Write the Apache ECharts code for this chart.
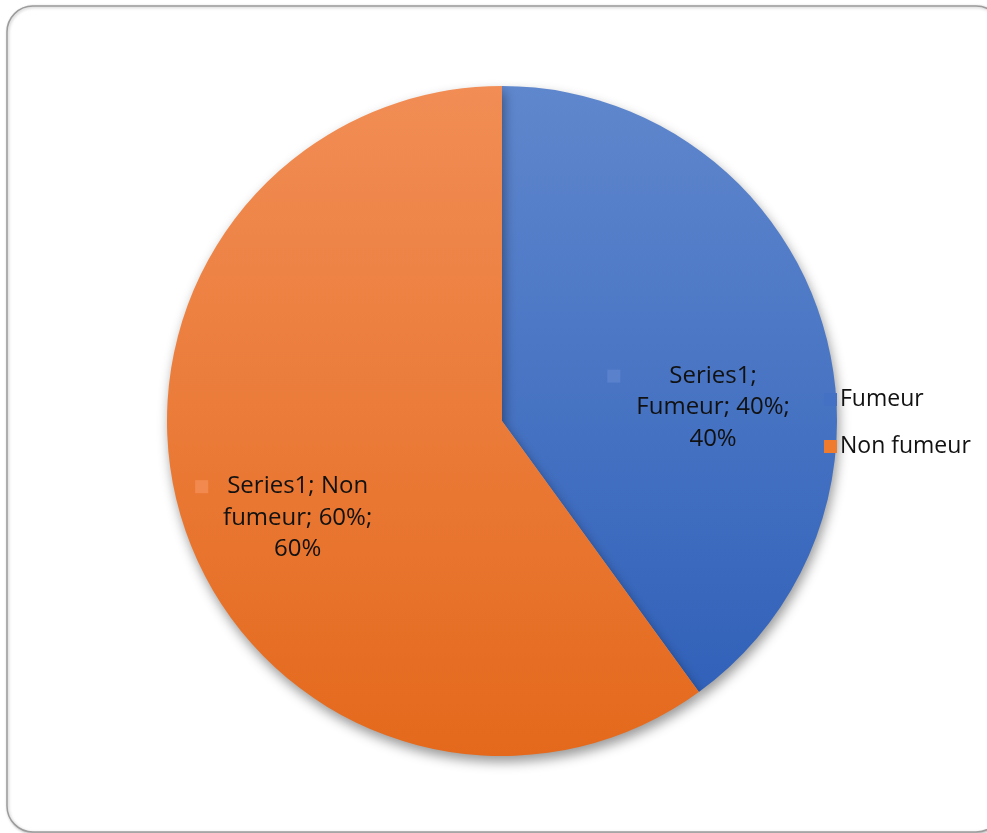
<!DOCTYPE html>
<html>
<head>
<meta charset="utf-8">
<title>Fumeur / Non fumeur</title>
<script src="https://cdn.jsdelivr.net/npm/echarts@6/dist/echarts.min.js"></script>
<style>
  html, body { margin: 0; padding: 0; background: #fff; }
  #chart { width: 987px; height: 833px; }
</style>
</head>
<body>
<div id="chart"></div>
<script>
// Data
const seriesName = 'Series1';
const categories = ['Fumeur', 'Non fumeur'];
const values = [40, 60];
const percents = ['40%', '60%'];

// Slice colours (top → bottom of the gradient)
const gradTop = ['#5f87cd', '#f18d55'];
const gradBottom = ['#2c5db7', '#e4691c'];
const keyColors = ['#5a82cc', '#f28a50'];

const chart = echarts.init(document.getElementById('chart'), null, { renderer: 'canvas' });

const cx = 502, cy = 421, R = 335;

function grad(i) {
  return new echarts.graphic.LinearGradient(0, cy - R, 0, cy + R, [
    { offset: 0, color: gradTop[i] },
    { offset: 1, color: gradBottom[i] }
  ], true);
}

const labelFormat = [
  function (name, pct) {
    return '{k0|}{g0|}{t|' + seriesName + ';}{s0|}\n{t|' + name + '; ' + pct + ';}\n{t|' + pct + '}';
  },
  function (name, pct) {
    return '{k1|}{g1|}{t|' + seriesName + '; Non}{s1|}\n{t|fumeur; ' + pct + ';}\n{t|' + pct + '}';
  }
];

// label centres expressed relative to the pie (fraction of radius)
const labelPos = [
  { fx: 0.63, fy: -0.04 },
  { fx: -0.61, fy: 0.29 }
];

const data = categories.map((c, i) => ({
  name: c,
  value: values[i],
  itemStyle: { color: grad(i) }
}));

const font = '"Open Sans", Lato, sans-serif';

chart.setOption({
  animation: false,
  backgroundColor: '#ffffff',
  graphic: [{
    type: 'rect',
    shape: { x: 7, y: 6, width: 995, height: 826, r: 26 },
    style: {
      fill: '#ffffff',
      stroke: '#9c9c9c',
      lineWidth: 1.5,
      shadowBlur: 3,
      shadowOffsetX: 1,
      shadowOffsetY: 1,
      shadowColor: 'rgba(0,0,0,0.25)'
    },
    z: -10
  }],
  legend: {
    orient: 'vertical',
    left: 819,
    top: 383,
    itemWidth: 13,
    itemHeight: 13,
    itemGap: 24,
    icon: 'rect',
    data: categories.map((c, i) => ({ name: c, itemStyle: { color: i === 0 ? '#4471c4' : '#ef7b2f' } })),
    textStyle: { fontFamily: font, fontSize: 23, color: '#111', padding: [0, 0, 0, -2] }
  },
  series: [{
    name: seriesName,
    type: 'pie',
    center: [cx, cy],
    radius: [0, R],
    startAngle: 90,
    clockwise: true,
    data: data,
    itemStyle: {
      borderWidth: 0,
      shadowBlur: 12,
      shadowOffsetY: 6,
      shadowOffsetX: 2,
      shadowColor: 'rgba(0,0,0,0.4)'
    },
    label: {
      show: true,
      position: 'inside',
      formatter: p => labelFormat[p.dataIndex](p.name, percents[p.dataIndex]),
      align: 'center',
      fontFamily: font,
      fontSize: 24,
      color: '#111',
      lineHeight: 31.5,
      rich: {
        t: { fontFamily: font, fontSize: 24, color: '#111', lineHeight: 31.5 },
        k0: { width: 13, height: 13, backgroundColor: keyColors[0], verticalAlign: 'middle' },
        g0: { width: 49 },
        s0: { width: 62 },
        k1: { width: 13, height: 13, backgroundColor: keyColors[1], verticalAlign: 'middle' },
        g1: { width: 19 },
        s1: { width: 32 }
      }
    },
    labelLine: { show: false },
    labelLayout: function (params) {
      const p = labelPos[params.dataIndex];
      return { x: cx + p.fx * R, y: cy + p.fy * R, align: 'center', verticalAlign: 'middle' };
    }
  }]
});
</script>
</body>
</html>
